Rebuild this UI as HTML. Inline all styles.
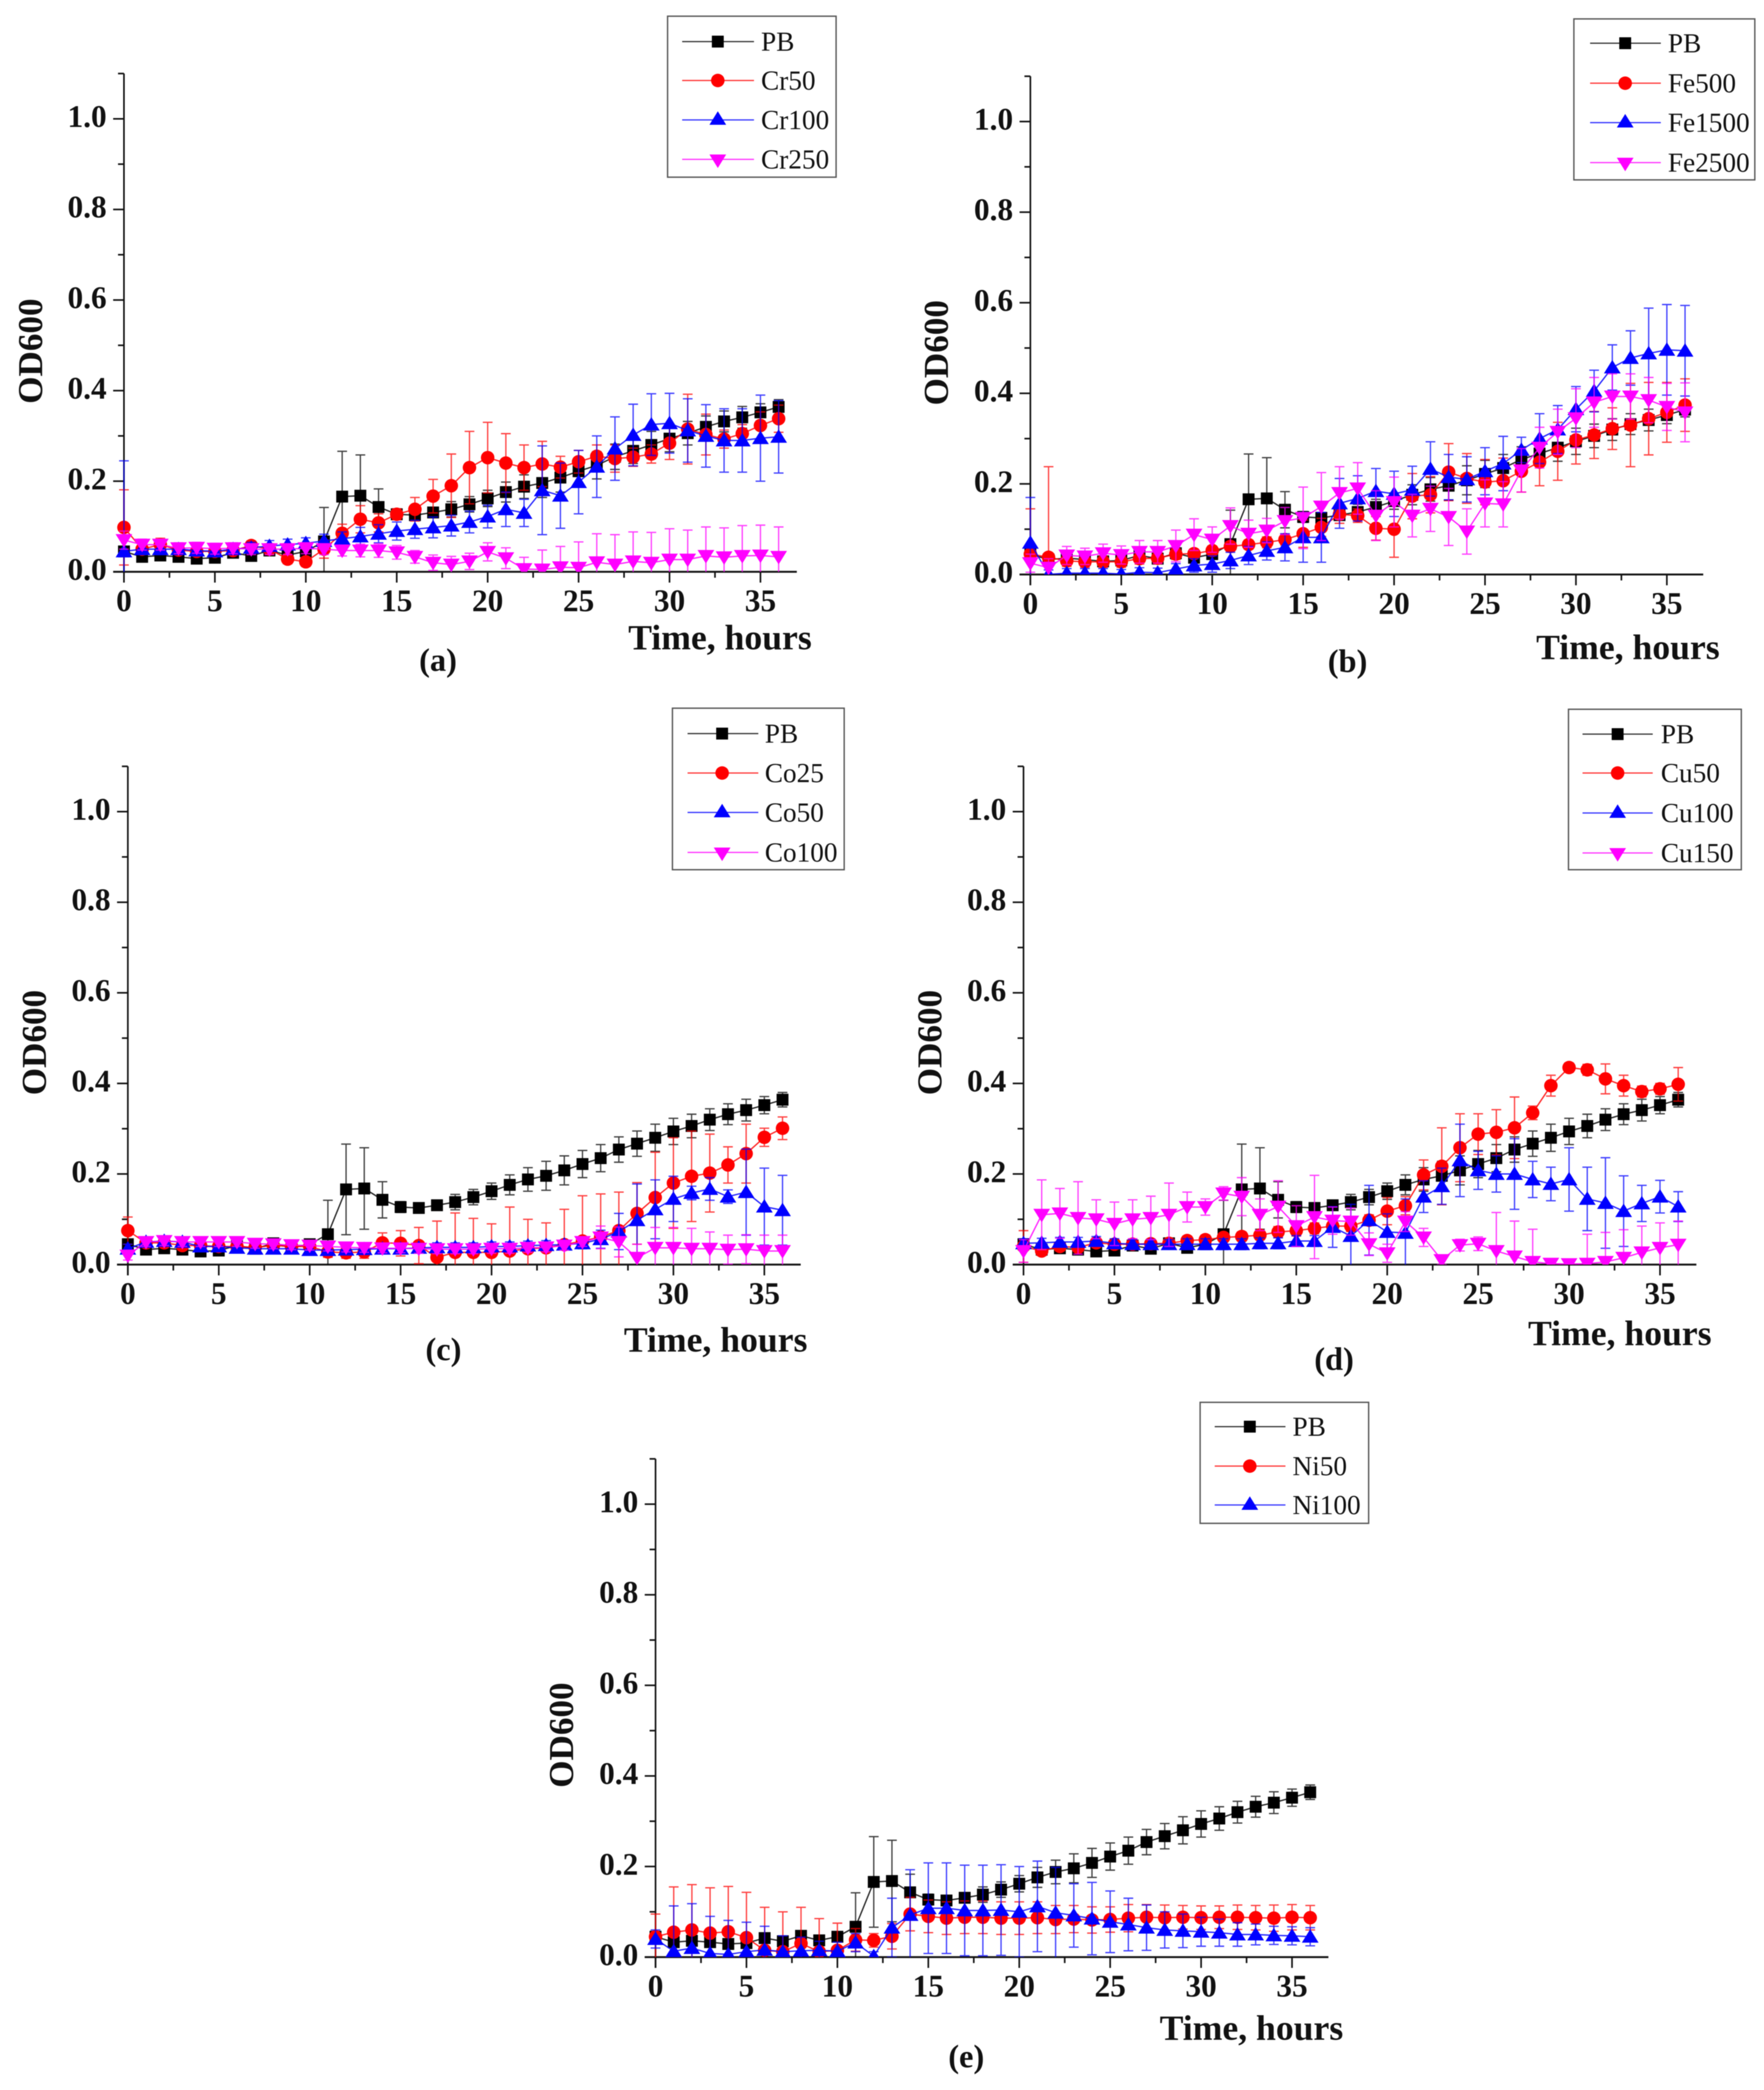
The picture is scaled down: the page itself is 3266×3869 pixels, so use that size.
<!DOCTYPE html>
<html lang="en">
<head>
<meta charset="utf-8">
<title>OD600 growth curves</title>
<style>
html,body{margin:0;padding:0;background:#fff;}
svg{display:block;filter:blur(0.7px);}
text{font-family:"Liberation Serif",serif;fill:#111;}
</style>
</head>
<body>
<svg id="figure" xmlns="http://www.w3.org/2000/svg" width="3266" height="3869" viewBox="0 0 3266 3869"></svg>
<script>
const hours = [0,1,2,3,4,5,6,7,8,9,10,11,12,13,14,15,16,17,18,19,20,21,22,23,24,25,26,27,28,29,30,31,32,33,34,35,36];
const xTickValues = [0,5,10,15,20,25,30,35];
const xMinorValues = [2.5,7.5,12.5,17.5,22.5,27.5,32.5];
const yTickValues = [0,0.2,0.4,0.6,0.8,1.0];
const yTickLabels = ['0.0','0.2','0.4','0.6','0.8','1.0'];
const yMinorValues = [0.1,0.3,0.5,0.7,0.9,1.1];

const pbValues = [.045,.033,.036,.033,.029,.031,.042,.035,.047,.037,.045,.067,.166,.168,.143,.127,.125,.131,.138,.149,.162,.176,.188,.196,.208,.222,.235,.254,.267,.28,.294,.306,.32,.332,.341,.352,.364];
const pbErrors = [.01,.008,.008,.008,.008,.008,.01,.01,.01,.01,.01,.075,.1,.09,.04,.012,.01,.01,.017,.017,.018,.022,.026,.032,.032,.03,.03,.028,.028,.03,.029,.026,.024,.023,.024,.019,.016];

const cr50Values = [.098,.05,.06,.048,.045,.045,.047,.058,.05,.028,.022,.05,.085,.116,.108,.127,.138,.167,.19,.23,.252,.24,.23,.238,.231,.243,.255,.25,.253,.26,.284,.315,.303,.293,.305,.323,.338];
const cr50Errors = [.083,.01,.014,.01,.01,.01,.01,.01,.012,.01,.01,.02,.02,.03,.02,.012,.026,.037,.07,.08,.078,.065,.05,.05,.024,.025,.025,.03,.02,.02,.036,.077,.045,.02,.02,.03,.03];
const cr100Values = [.045,.05,.05,.05,.047,.045,.05,.053,.057,.06,.063,.068,.073,.078,.084,.09,.094,.098,.102,.11,.122,.138,.13,.18,.168,.198,.232,.272,.302,.325,.328,.312,.3,.29,.29,.295,.298];
const cr100Errors = [.2,.012,.012,.012,.012,.012,.012,.012,.012,.012,.012,.015,.015,.02,.02,.02,.02,.023,.023,.024,.025,.038,.03,.098,.072,.07,.068,.07,.068,.068,.066,.07,.069,.07,.07,.095,.08];
const cr250Values = [.07,.06,.06,.052,.053,.051,.052,.05,.05,.05,.052,.05,.047,.047,.047,.043,.033,.02,.016,.023,.044,.03,.006,.005,.01,.009,.021,.016,.023,.02,.027,.027,.035,.032,.035,.036,.033];
const cr250Errors = [.02,.012,.012,.012,.012,.012,.012,.012,.012,.012,.012,.012,.012,.014,.015,.015,.014,.017,.018,.018,.02,.023,.026,.043,.046,.057,.063,.066,.065,.067,.068,.065,.064,.065,.067,.067,.066];

const fe500Values = [.045,.038,.03,.028,.028,.028,.035,.036,.045,.046,.053,.062,.066,.071,.077,.09,.104,.133,.13,.102,.1,.173,.176,.226,.212,.204,.207,.228,.248,.272,.297,.308,.322,.33,.344,.358,.374];
const fe500Errors = [.1,.2,.012,.012,.012,.012,.012,.012,.012,.01,.01,.01,.01,.012,.012,.03,.02,.02,.015,.026,.062,.05,.04,.063,.055,.05,.05,.046,.052,.064,.053,.052,.046,.092,.08,.066,.058];
const fe1500Values = [.07,.0,.003,.003,.003,.001,.005,.004,.012,.02,.023,.031,.042,.052,.06,.082,.082,.157,.168,.184,.178,.187,.233,.215,.21,.228,.245,.275,.3,.32,.365,.405,.457,.478,.488,.496,.494];
const fe1500Errors = [.1,.01,.01,.01,.01,.01,.01,.01,.012,.015,.018,.018,.02,.02,.03,.055,.055,.055,.05,.05,.05,.052,.06,.05,.05,.052,.06,.028,.055,.053,.05,.046,.05,.06,.1,.1,.1];
const fe2500Values = [.025,.015,.042,.04,.047,.043,.05,.05,.063,.088,.077,.107,.09,.097,.118,.125,.15,.18,.19,.13,.16,.13,.145,.127,.095,.157,.155,.23,.28,.315,.345,.38,.393,.393,.385,.37,.358];
const fe2500Errors = [.02,.02,.02,.018,.02,.02,.025,.025,.035,.035,.028,.04,.03,.027,.03,.068,.075,.058,.057,.055,.055,.047,.05,.063,.05,.052,.05,.048,.045,.05,.065,.055,.05,.05,.05,.052,.065];

const co25Values = [.075,.048,.048,.042,.042,.04,.04,.038,.042,.04,.04,.028,.026,.028,.048,.047,.042,.016,.027,.027,.027,.03,.035,.037,.044,.052,.061,.075,.113,.148,.18,.195,.202,.22,.245,.281,.301];
const co25Errors = [.03,.01,.01,.01,.01,.01,.01,.01,.01,.01,.01,.012,.012,.014,.022,.028,.04,.08,.087,.075,.063,.097,.065,.055,.078,.1,.095,.085,.068,.1,.1,.1,.086,.04,.065,.02,.025];
const co50Values = [.035,.05,.052,.05,.04,.04,.037,.035,.035,.035,.032,.032,.033,.034,.035,.035,.037,.038,.038,.038,.04,.04,.042,.043,.044,.047,.056,.073,.098,.122,.145,.158,.167,.15,.16,.128,.12];
const co50Errors = [.01,.01,.01,.01,.01,.01,.01,.01,.01,.01,.01,.01,.01,.01,.01,.01,.01,.01,.01,.01,.01,.01,.01,.01,.01,.012,.02,.04,.08,.065,.05,.015,.025,.015,.095,.085,.077];
const co100Values = [.02,.05,.052,.05,.05,.05,.05,.046,.045,.043,.042,.04,.038,.037,.036,.036,.035,.034,.034,.034,.035,.035,.037,.038,.042,.05,.06,.05,.015,.037,.037,.035,.035,.033,.034,.03,.03];
const co100Errors = [.01,.01,.01,.01,.01,.01,.01,.01,.01,.01,.01,.01,.01,.01,.01,.01,.01,.01,.01,.01,.01,.01,.01,.01,.01,.01,.025,.033,.03,.045,.045,.045,.037,.032,.032,.035,.035];

const cu50Values = [.04,.03,.04,.038,.048,.045,.045,.046,.047,.053,.055,.06,.062,.065,.072,.075,.08,.085,.085,.098,.118,.13,.198,.217,.258,.288,.292,.302,.335,.395,.435,.43,.41,.395,.382,.388,.398];
const cu50Errors = [.035,.01,.01,.01,.01,.01,.01,.01,.01,.01,.01,.01,.01,.01,.012,.012,.012,.012,.012,.012,.03,.02,.033,.085,.075,.045,.05,.068,.015,.023,.01,.012,.033,.023,.012,.012,.037];
const cu100Values = [.047,.048,.05,.05,.052,.047,.045,.045,.045,.045,.045,.045,.045,.047,.047,.052,.052,.083,.063,.098,.072,.07,.15,.173,.23,.208,.2,.2,.188,.178,.188,.145,.136,.118,.135,.15,.128];
const cu100Errors = [.01,.01,.01,.01,.01,.01,.01,.01,.01,.012,.012,.012,.012,.012,.012,.012,.012,.045,.07,.077,.04,.075,.035,.04,.08,.042,.04,.078,.04,.037,.07,.07,.1,.078,.04,.036,.033];
const cu150Values = [.03,.11,.113,.103,.1,.09,.1,.103,.11,.127,.127,.157,.15,.11,.128,.085,.105,.097,.095,.045,.025,.095,.06,.01,.043,.046,.03,.018,.006,.002,.001,.002,.006,.015,.027,.037,.044];
const cu150Errors = [.025,.077,.055,.08,.043,.048,.043,.048,.07,.033,.018,.015,.042,.035,.057,.045,.092,.03,.03,.025,.02,.022,.02,.01,.013,.015,.085,.078,.072,.005,.002,.065,.065,.062,.058,.055,.052];

const ni50Values = [.045,.055,.06,.053,.056,.043,.015,.012,.03,.012,.015,.038,.037,.046,.095,.09,.086,.088,.088,.086,.086,.087,.083,.084,.082,.083,.086,.088,.087,.088,.087,.088,.088,.087,.086,.088,.087];
const ni50Errors = [.05,.1,.1,.1,.1,.1,.095,.088,.08,.073,.06,.025,.015,.028,.037,.036,.036,.036,.036,.036,.036,.035,.031,.03,.029,.028,.03,.028,.028,.026,.026,.025,.027,.027,.029,.028,.027];
const ni100Values = [.04,.013,.02,.008,.006,.012,.016,.012,.014,.015,.013,.032,.002,.065,.093,.108,.108,.103,.103,.104,.1,.112,.098,.092,.085,.078,.072,.065,.06,.058,.056,.054,.05,.05,.048,.047,.045];
const ni100Errors = [.02,.1,.098,.082,.075,.065,.052,.035,.03,.02,.02,.02,.01,.065,.1,.1,.1,.1,.1,.1,.1,.1,.1,.07,.08,.068,.058,.05,.04,.037,.032,.03,.026,.023,.02,.02,.02];

const STYLES = {
  black:{color:'#000000',shape:'square'},
  red:{color:'#ff0000',shape:'circle'},
  blue:{color:'#0000ff',shape:'up'},
  magenta:{color:'#ff00ff',shape:'down'}
};

const panels = [
 {id:'a',x0:229.5,y0:1058.5,
  series:[['PB',pbValues,pbErrors,'black'],['Cr50',cr50Values,cr50Errors,'red'],['Cr100',cr100Values,cr100Errors,'blue'],['Cr250',cr250Values,cr250Errors,'magenta']],
  box:[1236,30,1548,328],legendRows:[77,149,222,295],lineX:[1263,1396],markX:1329,textX:1409,
  time:[1333,1202],od:[56,650],cap:[811,1242]},
 {id:'b',x0:1907.7,y0:1063.5,
  series:[['PB',pbValues,pbErrors,'black'],['Fe500',fe500Values,fe500Errors,'red'],['Fe1500',fe1500Values,fe1500Errors,'blue'],['Fe2500',fe2500Values,fe2500Errors,'magenta']],
  box:[2914,35,3249,333],legendRows:[80,154,227,301],lineX:[2944,3075],markX:3009,textX:3088,
  time:[3014,1220],od:[1733,653],cap:[2495,1244]},
 {id:'c',x0:236.7,y0:2341,
  series:[['PB',pbValues,pbErrors,'black'],['Co25',co25Values,co25Errors,'red'],['Co50',co50Values,co50Errors,'blue'],['Co100',co100Values,co100Errors,'magenta']],
  box:[1245,1311,1563,1610],legendRows:[1358,1431,1504,1578],lineX:[1273,1404],markX:1337,textX:1416,
  time:[1325,2502],od:[63,1930],cap:[821,2518]},
 {id:'d',x0:1895,y0:2341,
  series:[['PB',pbValues,pbErrors,'black'],['Cu50',cu50Values,cu50Errors,'red'],['Cu100',cu100Values,cu100Errors,'blue'],['Cu150',cu150Values,cu150Errors,'magenta']],
  box:[2904,1313,3224,1610],legendRows:[1359,1431,1505,1579],lineX:[2930,3060],markX:2995,textX:3075,
  time:[2999,2490],od:[1721,1930],cap:[2470,2536]},
 {id:'e',x0:1213.7,y0:3623,
  series:[['PB',pbValues,pbErrors,'black'],['Ni50',ni50Values,ni50Errors,'red'],['Ni100',ni100Values,ni100Errors,'blue']],
  box:[2222,2596,2534,2820],legendRows:[2641,2714,2786],lineX:[2249,2380],markX:2314,textX:2393,
  time:[2317,3776],od:[1039,3212],cap:[1789,3827]}
];

const NS = 'http://www.w3.org/2000/svg';
const PX_PER_HOUR = 33.67;
const PX_PER_UNIT = 838.5;
const X_MAX = 37;
const Y_MAX = 1.1;
const svgRoot = document.getElementById('figure');

function make(tag, parent, props) {
  const el = document.createElementNS(NS, tag);
  for (const k in props) el.setAttribute(k, props[k]);
  parent.appendChild(el);
  return el;
}

function drawMarker(parent, shape, color, x, y) {
  let el;
  if (shape === 'square') {
    el = make('rect', parent, {x:x-11, y:y-11, width:22, height:22, fill:color});
  } else if (shape === 'circle') {
    el = make('circle', parent, {cx:x, cy:y, r:12.5, fill:color});
  } else if (shape === 'up') {
    el = make('polygon', parent, {points:(x-15.5)+','+(y+11)+' '+(x+15.5)+','+(y+11)+' '+x+','+(y-14), fill:color});
  } else {
    el = make('polygon', parent, {points:(x-15.5)+','+(y-11)+' '+(x+15.5)+','+(y-11)+' '+x+','+(y+14), fill:color});
  }
  return el;
}

function drawPanel(p) {
  const xScale = v => p.x0 + v * PX_PER_HOUR;
  const yScale = v => p.y0 - v * PX_PER_UNIT;
  const g = make('g', svgRoot, {});
  
  

  const clipId = 'clip-' + p.id;
  const defs = make('defs', g, {});
  const clip = make('clipPath', defs, {id:clipId});
  make('rect', clip, {x:p.x0-24, y:yScale(Y_MAX), width:X_MAX*PX_PER_HOUR+24, height:Y_MAX*PX_PER_UNIT});

  const axes = make('g', g, {stroke:'#111', 'stroke-width':3, fill:'none'});
  
  
  const xAxis = make('line', axes, {x1:p.x0-20, y1:p.y0, x2:xScale(X_MAX), y2:p.y0, 'stroke-width':3.5});
  
  
  const yAxis = make('line', axes, {x1:p.x0, y1:yScale(Y_MAX), x2:p.x0, y2:p.y0+20});
  
  

  xTickValues.forEach(v => {
    const tick = make('line', axes, {x1:xScale(v), y1:p.y0, x2:xScale(v), y2:p.y0+20});
    
    
    const label = make('text', g, {x:xScale(v), y:p.y0+73, 'font-size':58, 'font-weight':'bold', 'text-anchor':'middle'});
    label.textContent = String(v);
    
    
  });
  xMinorValues.forEach(v => {
    const tick = make('line', axes, {x1:xScale(v), y1:p.y0, x2:xScale(v), y2:p.y0+11});
    
    
  });
  yTickValues.forEach((v, i) => {
    const tick = make('line', axes, {x1:p.x0-20, y1:yScale(v), x2:p.x0, y2:yScale(v)});
    
    
    const label = make('text', g, {x:p.x0-32, y:yScale(v)+15, 'font-size':58, 'font-weight':'bold', 'text-anchor':'end'});
    label.textContent = yTickLabels[i];
    
    
  });
  yMinorValues.forEach(v => {
    const tick = make('line', axes, {x1:p.x0-11, y1:yScale(v), x2:p.x0, y2:yScale(v)});
    
    
  });

  p.series.forEach(s => {
    const name = s[0], values = s[1], errors = s[2], style = STYLES[s[3]];
    const sg = make('g', g, {'clip-path':'url(#' + clipId + ')'});
    
    
    const bars = make('g', sg, {stroke:style.color, 'stroke-width':2.4, opacity:0.75, fill:'none'});
    hours.forEach((h, i) => {
      const x = xScale(h);
      const top = yScale(values[i] + errors[i]);
      const bottom = yScale(values[i] - errors[i]);
      const bar = make('path', bars, {d:'M'+x+' '+top+'V'+bottom+'M'+(x-9)+' '+top+'H'+(x+9)+'M'+(x-9)+' '+bottom+'H'+(x+9)});
      
      
    });
    const pts = hours.map((h, i) => xScale(h) + ',' + yScale(values[i])).join(' ');
    const line = make('polyline', sg, {points:pts, fill:'none', stroke:style.color, 'stroke-width':2.5, opacity:0.85});
    
    
    hours.forEach((h, i) => {
      const mark = drawMarker(sg, style.shape, style.color, xScale(h), yScale(values[i]));
      
      
    });
  });

  const timeLabel = make('text', g, {x:p.time[0], y:p.time[1], 'font-size':66, 'font-weight':'bold', 'text-anchor':'middle'});
  timeLabel.textContent = 'Time, hours';
  
  

  const odLabel = make('text', g, {x:0, y:0, 'font-size':65, 'font-weight':'bold', 'text-anchor':'middle',
    transform:'translate(' + (p.od[0]+22) + ',' + p.od[1] + ') rotate(-90)'});
  odLabel.textContent = 'OD600';
  
  

  const caption = make('text', g, {x:p.cap[0], y:p.cap[1], 'font-size':60, 'font-weight':'bold', 'text-anchor':'middle'});
  caption.textContent = '(' + p.id + ')';
  
  

  const legend = make('g', g, {});
  
  
  const legendBox = make('rect', legend, {x:p.box[0], y:p.box[1], width:p.box[2]-p.box[0], height:p.box[3]-p.box[1], fill:'#fff', stroke:'#555', 'stroke-width':2.5});
  
  
  p.series.forEach((s, i) => {
    const style = STYLES[s[3]];
    const rowY = p.legendRows[i];
    const row = make('g', legend, {});
    
    
    make('line', row, {x1:p.lineX[0], y1:rowY, x2:p.lineX[1], y2:rowY, stroke:style.color, 'stroke-width':2.2, opacity:0.8});
    const off = style.shape === 'up' ? -2 : (style.shape === 'down' ? 2 : 0);
    drawMarker(row, style.shape, style.color, p.markX, rowY + off);
    const t = make('text', row, {x:p.textX, y:rowY+17, 'font-size':50.5});
    t.textContent = s[0];
  });
}

panels.forEach(drawPanel);
</script>
</body>
</html>
